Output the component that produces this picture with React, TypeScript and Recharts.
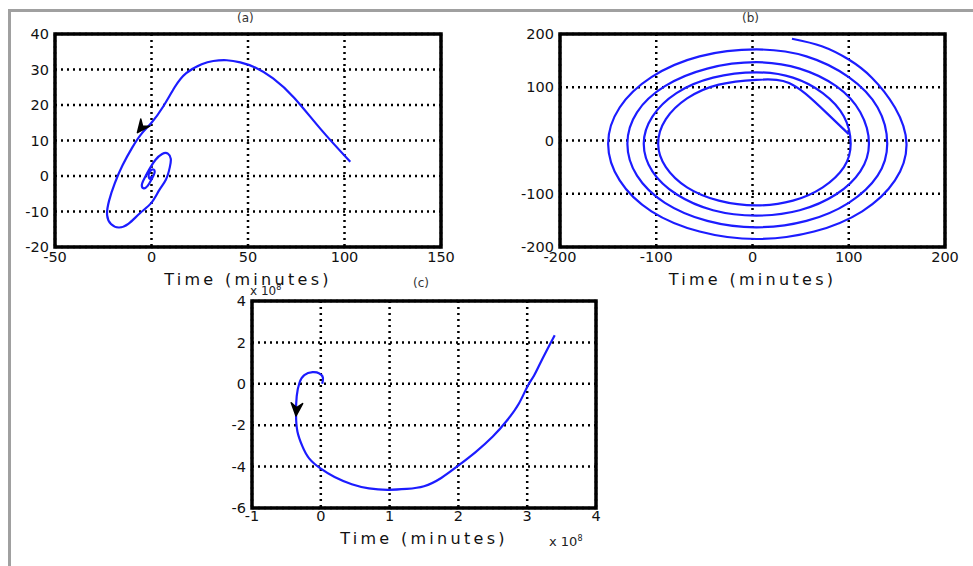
import React from 'react';
import { ComposedChart, Line, XAxis, YAxis, CartesianGrid, ReferenceArea, ReferenceDot } from 'recharts';

// ---------- data ----------
const ticksAX = [-50, 0, 50, 100, 150];
const ticksAY = [-20, -10, 0, 10, 20, 30, 40];
const curveA: [number, number][] = [
  [103, 4], [88, 13], [74, 22], [63, 27.5], [54, 30.5], [46, 32], [39, 32.6], [32, 32.4], [26, 31.5],
  [18, 29], [12, 25], [6, 19.5], [0, 15], [-5, 12], [-10, 8], [-15, 3], [-19, -2], [-22, -7], [-23, -11],
  [-21, -13.5], [-17, -14.5], [-12, -13.5], [-6, -10.5], [0, -7.5], [4, -4], [7.5, -1], [9.5, 2.5],
  [10, 4.8], [8.5, 6.3], [5.5, 6.2], [2, 4.5], [-1, 2], [-3.5, -0.5], [-5, -2.5], [-4, -3.5], [-2, -2.8],
  [0, -1], [1.5, 0.8], [1.2, 1.8], [-0.5, 1.5], [-1.5, 0.2], [-0.8, -0.8], [0, 0],
];
const arrowA = { x: -7.3, y: 12.2, angle: 128 };

const ticksBX = [-200, -100, 0, 100, 200];
const ticksBY = [-200, -100, 0, 100, 200];
const curveB: [number, number][] = [
  [41, 191], [72, 177], [100, 152], [124, 118], [148, 62], [160, -6],
  [148, -75], [114, -133], [64, -171], [4, -185], [-55, -171], [-105, -133], [-138, -75], [-150, -6],
  [-138, 62], [-105, 119], [-55, 158], [4, 171], [56, 158], [100, 119], [130, 62], [140, -6],
  [130, -66], [100, -117], [56, -151], [4, -163], [-47, -151], [-91, -117], [-120, -66], [-130, -6],
  [-120, 53], [-91, 102], [-47, 135], [4, 147], [49, 135], [87, 102], [112, 53], [121, -6],
  [112, -58], [87, -101], [49, -131], [4, -141], [-41, -131], [-79, -101], [-104, -58], [-113, -6],
  [-104, 45], [-79, 89], [-41, 118], [4, 128], [42, 118], [73, 89], [95, 45], [102, -6],
  [95, -50], [73, -88], [42, -113], [4, -122], [-35, -113], [-68, -88], [-90, -50], [-98, -6],
  [-90, 40], [-68, 79], [-35, 105], [4, 114], [25, 114], [38, 108], [55, 88], [78, 50], [100, 12],
];

const ticksCX = [-1, 0, 1, 2, 3, 4];
const ticksCY = [-6, -4, -2, 0, 2, 4];
const curveC: [number, number][] = [
  [0.02, 0.0], [0.03, 0.3], [-0.02, 0.5], [-0.12, 0.56], [-0.24, 0.42], [-0.31, 0.05], [-0.35, -0.6],
  [-0.36, -1.5], [-0.34, -2.3], [-0.27, -3.0], [-0.17, -3.6], [0.0, -4.1], [0.2, -4.5], [0.45, -4.85],
  [0.7, -5.05], [0.97, -5.12], [1.25, -5.08], [1.5, -4.95], [1.75, -4.55], [2.0, -3.95], [2.25, -3.3],
  [2.5, -2.55], [2.7, -1.8], [2.88, -0.95], [3.0, -0.15], [3.1, 0.4], [3.22, 1.2], [3.4, 2.35],
];
const arrowC = { x: -0.36, y: -1.55, angle: 94 };

const xLabel = 'Time (minutes)';
const titles = ['(a)', '(b)', '(c)'];
const exponent = '8';

// ---------- helpers ----------
const toRows = (c: [number, number][]) => c.map(([x, y]) => ({ x, y }));
const FONT = 'DejaVu Sans, Verdana, sans-serif';
const BLUE = '#1c1cff';

const ArrowHead = (props: any) => {
  const { cx, cy, angle } = props;
  if (cx == null || cy == null) return null;
  const a = (angle * Math.PI) / 180;
  const len = 14;
  const spread = 0.42;
  const p1x = cx - len * Math.cos(a - spread);
  const p1y = cy - len * Math.sin(a - spread);
  const p2x = cx - len * Math.cos(a + spread);
  const p2y = cy - len * Math.sin(a + spread);
  const mx = cx - len * 0.6 * Math.cos(a);
  const my = cy - len * 0.6 * Math.sin(a);
  return (
    <path
      d={`M${cx},${cy} L${p1x},${p1y} L${mx},${my} L${p2x},${p2y} Z`}
      fill="#000"
      stroke="#000"
      strokeWidth={1.5}
      strokeLinejoin="round"
    />
  );
};

type PanelProps = {
  width: number;
  height: number;
  margin: { top: number; right: number; bottom: number; left: number };
  data: { x: number; y: number }[];
  xTicks: number[];
  yTicks: number[];
  labelOffset: number;
  arrow?: { x: number; y: number; angle: number };
  xTickMargin: number;
};

const Panel = ({ width, height, margin, data, xTicks, yTicks, labelOffset, arrow, xTickMargin }: PanelProps) => {
  const x0 = xTicks[0];
  const x1 = xTicks[xTicks.length - 1];
  const y0 = yTicks[0];
  const y1 = yTicks[yTicks.length - 1];
  // axes take 1px each, so shrink margins accordingly
  const m = { top: margin.top, right: margin.right, left: margin.left - 1, bottom: margin.bottom - 1 };
  return (
    <ComposedChart width={width} height={height} data={data} margin={m}>
      <CartesianGrid stroke="#000" strokeDasharray="2 4" strokeWidth={2.5} />
      <XAxis
        type="number"
        dataKey="x"
        domain={[x0, x1]}
        ticks={xTicks}
        height={1}
        tickLine={false}
        axisLine={false}
        tickSize={0}
        tickMargin={xTickMargin}
        interval={0}
        allowDataOverflow
        tick={{ fill: '#111', fontSize: 14.5, fontFamily: FONT }}
        label={{
          value: xLabel,
          position: 'bottom',
          offset: labelOffset,
          fill: '#111',
          fontSize: 16,
          fontFamily: FONT,
          style: { letterSpacing: '3.3px' },
        }}
      />
      <YAxis
        type="number"
        dataKey="y"
        domain={[y0, y1]}
        ticks={yTicks}
        width={1}
        tickLine={false}
        axisLine={false}
        tickSize={0}
        tickMargin={6}
        interval={0}
        allowDataOverflow
        tick={{ fill: '#111', fontSize: 14.5, fontFamily: FONT }}
      />
      <ReferenceArea x1={x0} x2={x1} y1={y0} y2={y1} fill="none" fillOpacity={0} stroke="#000" strokeWidth={3.5} ifOverflow="visible" />
      <Line
        dataKey="y"
        type="natural"
        stroke={BLUE}
        strokeWidth={2.2}
        dot={false}
        activeDot={false}
        isAnimationActive={false}
      />
      {arrow && (
        <ReferenceDot
          x={arrow.x}
          y={arrow.y}
          r={0}
          ifOverflow="visible"
          shape={(p: any) => <ArrowHead cx={p.cx} cy={p.cy} angle={arrow.angle} />}
        />
      )}
    </ComposedChart>
  );
};

const textStyle: React.CSSProperties = {
  position: 'absolute',
  fontFamily: FONT,
  color: '#333',
  whiteSpace: 'nowrap',
  lineHeight: 1,
};

export default function App() {
  return (
    <div style={{ position: 'absolute', left: 0, top: 0, width: 973, height: 566, overflow: 'hidden', background: '#fff' }}>
      <div
        style={{
          position: 'absolute',
          left: 8,
          top: 9,
          width: 1000,
          height: 620,
          border: '3px solid #a0a0a0',
          boxSizing: 'border-box',
        }}
      />
      <div style={{ position: 'absolute', left: 0, top: 0 }}>
        <Panel
          width={480}
          height={300}
          margin={{ top: 34, left: 55, right: 39, bottom: 53 }}
          data={toRows(curveA)}
          xTicks={ticksAX}
          yTicks={ticksAY}
          labelOffset={26}
          arrow={arrowA}
          xTickMargin={5}
        />
      </div>
      <div style={{ position: 'absolute', left: 480, top: 0 }}>
        <Panel
          width={493}
          height={300}
          margin={{ top: 34, left: 80, right: 28, bottom: 53 }}
          data={toRows(curveB)}
          xTicks={ticksBX}
          yTicks={ticksBY}
          labelOffset={26}
          xTickMargin={5}
        />
      </div>
      <div style={{ position: 'absolute', left: 200, top: 280 }}>
        <Panel
          width={420}
          height={286}
          margin={{ top: 21, left: 52, right: 24, bottom: 58 }}
          data={toRows(curveC)}
          xTicks={ticksCX}
          yTicks={ticksCY}
          labelOffset={24}
          arrow={arrowC}
          xTickMargin={3}
        />
      </div>
      <div style={{ ...textStyle, left: 237, top: 12, fontSize: 12 }}>{titles[0]}</div>
      <div style={{ ...textStyle, left: 742, top: 12, fontSize: 12 }}>{titles[1]}</div>
      <div style={{ ...textStyle, left: 413, top: 277, fontSize: 12 }}>{titles[2]}</div>
      <div style={{ ...textStyle, left: 250, top: 284, fontSize: 12, color: '#222' }}>
        x 10<sup style={{ fontSize: 8 }}>{exponent}</sup>
      </div>
      <div style={{ ...textStyle, left: 549, top: 535, fontSize: 13, color: '#222' }}>
        x 10<sup style={{ fontSize: 8 }}>{exponent}</sup>
      </div>
    </div>
  );
}
